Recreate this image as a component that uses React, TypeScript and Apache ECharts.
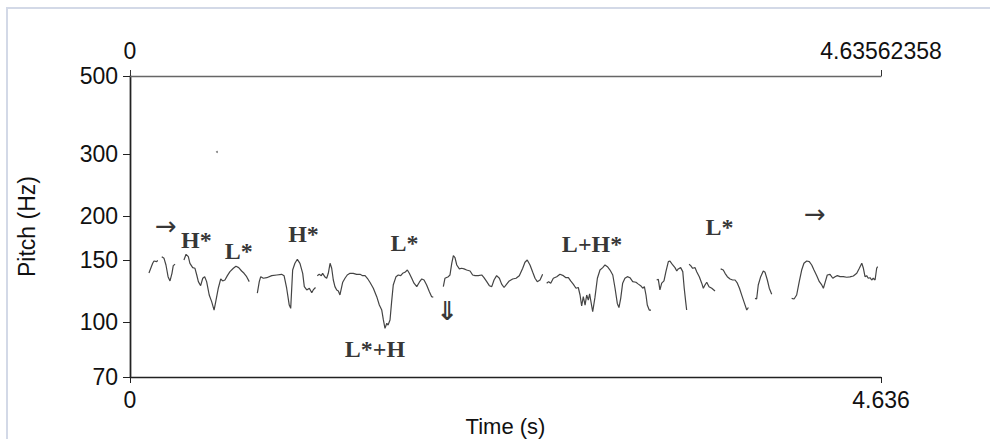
import React, { useEffect, useRef } from 'react';
import * as echarts from 'echarts';

// ---- axis data ----
const X_MAX = 4.63562358;
const xTickValues = [0, X_MAX];
const bottomTickLabels = ['0', '4.636'];
const topTickLabels = ['0', '4.63562358'];
const yTickValues = [70, 100, 150, 200, 300, 500];
const Y_MIN = 70;
const Y_MAX = 500;

// ---- pitch contour segments: [time (s), pitch (Hz)] ----
const segA = [[0.117, 138.1], [0.140, 147.1], [0.148, 149.3], [0.165, 148.7], [0.171, 150.0]];
const segB = [[0.196, 153.6], [0.210, 152.0], [0.222, 145.5], [0.235, 134.8], [0.247, 131.1], [0.259, 137.8], [0.267, 144.9], [0.278, 146.2]];
const segC = [[0.333, 150.3], [0.346, 156.0], [0.360, 153.6], [0.370, 147.1], [0.387, 143.0], [0.401, 142.4], [0.412, 136.3], [0.422, 130.5], [0.436, 127.1], [0.449, 133.4], [0.461, 134.8], [0.473, 130.5], [0.489, 119.6], [0.504, 114.5], [0.519, 108.4], [0.531, 115.7], [0.545, 125.0], [0.560, 132.8], [0.572, 131.1], [0.586, 131.9], [0.601, 135.7], [0.617, 139.3], [0.638, 142.4], [0.654, 144.3], [0.671, 143.0], [0.689, 139.9], [0.704, 137.8], [0.720, 134.8], [0.736, 130.5]];
const segD = [[0.786, 121.0], [0.798, 130.5], [0.807, 134.8], [0.823, 133.4], [0.844, 133.9], [0.875, 135.7], [0.906, 136.3], [0.936, 136.9], [0.951, 135.7], [0.967, 125.0], [0.983, 112.0], [0.992, 109.6], [1.004, 140.8], [1.018, 147.1], [1.033, 151.0], [1.049, 147.1], [1.066, 137.8], [1.076, 126.3], [1.091, 123.6], [1.107, 125.0], [1.122, 121.4], [1.131, 123.6], [1.145, 125.6]];
const segE = [[1.156, 135.7], [1.168, 136.9], [1.181, 135.7], [1.189, 137.8], [1.202, 134.8], [1.214, 133.4], [1.224, 137.8], [1.235, 147.1], [1.245, 142.4], [1.255, 131.9], [1.265, 126.3], [1.276, 123.6], [1.286, 122.8], [1.296, 119.6], [1.313, 130.0], [1.327, 133.4], [1.341, 136.3], [1.358, 137.8], [1.378, 137.8], [1.399, 136.9], [1.420, 136.9], [1.436, 135.7], [1.451, 135.7], [1.465, 133.4], [1.481, 130.0], [1.502, 125.0], [1.523, 118.3], [1.539, 112.0], [1.554, 108.4], [1.564, 101.6], [1.574, 96.2], [1.585, 99.4], [1.593, 98.3], [1.605, 101.6], [1.615, 114.5], [1.625, 127.7], [1.642, 134.8], [1.656, 136.3], [1.671, 135.7], [1.683, 137.8], [1.697, 138.7], [1.712, 140.8], [1.724, 137.8], [1.739, 133.4], [1.753, 129.2], [1.770, 126.3], [1.786, 130.0], [1.801, 132.8], [1.815, 131.9], [1.831, 127.7], [1.848, 122.2], [1.862, 118.3], [1.872, 117.8]];
const segF = [[1.934, 126.3], [1.944, 133.4], [1.965, 134.8], [1.975, 136.3], [1.986, 147.1], [1.996, 154.6], [2.006, 152.6], [2.017, 145.5], [2.033, 141.8], [2.047, 142.4], [2.062, 141.8], [2.078, 140.8], [2.099, 139.9], [2.115, 136.3], [2.130, 135.7], [2.150, 135.7], [2.171, 136.3], [2.185, 133.9], [2.202, 130.5], [2.218, 127.1], [2.233, 126.3], [2.247, 131.9], [2.263, 135.7], [2.280, 133.4], [2.294, 128.4], [2.309, 125.6], [2.325, 128.4], [2.341, 131.1], [2.362, 132.8], [2.383, 133.4], [2.403, 135.7], [2.424, 142.4], [2.438, 148.1], [2.452, 150.3], [2.469, 145.5], [2.486, 138.7], [2.500, 133.4], [2.514, 130.5], [2.531, 131.9], [2.547, 136.9]];
const segG = [[2.572, 129.2], [2.584, 130.5], [2.597, 129.2], [2.613, 133.4], [2.634, 134.8], [2.654, 136.9], [2.675, 135.7], [2.691, 133.9], [2.706, 133.9], [2.720, 131.1], [2.736, 128.4], [2.753, 125.0], [2.767, 125.6], [2.778, 119.6], [2.788, 111.3], [2.798, 118.3], [2.809, 112.0], [2.819, 119.6], [2.829, 115.7], [2.837, 120.4], [2.856, 107.2], [2.870, 117.7], [2.885, 133.4], [2.901, 140.8], [2.918, 143.0], [2.932, 145.5], [2.947, 143.9], [2.963, 140.8], [2.980, 136.3], [2.994, 125.0], [3.008, 113.2], [3.018, 110.2], [3.029, 117.0], [3.041, 129.2], [3.055, 133.4], [3.070, 134.8], [3.086, 133.9], [3.103, 130.5], [3.123, 130.0], [3.138, 128.4], [3.152, 127.1], [3.165, 125.0], [3.175, 126.3], [3.185, 119.6], [3.193, 112.0], [3.205, 108.4], [3.216, 108.4]];
const segH = [[3.251, 131.9], [3.261, 132.5], [3.271, 123.6], [3.282, 129.2], [3.296, 131.1], [3.308, 139.3], [3.323, 148.7], [3.333, 149.3], [3.350, 145.5], [3.364, 143.0], [3.375, 139.9], [3.384, 141.8], [3.399, 143.0], [3.412, 139.3], [3.421, 125.0], [3.430, 114.5], [3.436, 108.4]];
const segI = [[3.451, 146.2], [3.461, 144.9], [3.473, 142.4], [3.488, 143.0], [3.498, 139.3], [3.514, 134.8], [3.529, 129.2], [3.539, 125.0], [3.549, 127.7], [3.560, 130.0], [3.574, 126.3], [3.591, 125.0], [3.611, 122.8]];
const segJ = [[3.646, 141.8], [3.662, 140.8], [3.673, 137.8], [3.687, 134.8], [3.704, 132.8], [3.720, 131.9], [3.735, 131.9], [3.749, 129.2], [3.762, 125.0], [3.779, 118.3], [3.793, 113.2], [3.807, 108.4], [3.817, 110.2]];
const segK = [[3.858, 117.0], [3.868, 116.5], [3.878, 127.7], [3.893, 134.8], [3.909, 139.9], [3.920, 138.7], [3.934, 131.9], [3.946, 125.0], [3.961, 120.2]];
const segL = [[4.084, 117.0], [4.099, 116.5], [4.115, 119.6], [4.131, 130.5], [4.146, 140.8], [4.160, 147.1], [4.177, 149.3], [4.193, 148.7], [4.208, 145.5], [4.222, 140.8], [4.239, 135.7], [4.255, 130.5], [4.270, 127.7], [4.280, 125.0], [4.292, 130.5], [4.304, 136.3], [4.321, 136.9], [4.338, 133.4], [4.352, 134.8], [4.366, 135.7], [4.383, 134.8], [4.403, 134.8], [4.424, 134.3], [4.444, 134.6], [4.465, 135.4], [4.486, 137.8], [4.502, 142.4], [4.517, 147.1], [4.527, 142.4], [4.537, 134.8], [4.547, 135.7], [4.557, 133.4], [4.568, 133.9], [4.578, 131.9], [4.588, 133.4], [4.599, 131.9], [4.609, 142.4], [4.615, 143.9]];
const strayPoints = [[0.537, 304.4]];

const contourSegments = [segA, segB, segC, segD, segE, segF, segG, segH, segI, segJ, segK, segL];

// ---- ToBI annotations ----
const annotationTexts = ['→', 'H*', 'L*', 'H*', 'L*', 'L*+H', '⇓', 'L+H*', 'L*', '→'];
const annotationTimes = [0.222, 0.410, 0.671, 1.071, 1.694, 1.512, 1.957, 2.852, 3.639, 4.228];
const annotationHz = [187.8, 170.8, 158.9, 177.6, 168.5, 84.0, 107.7, 167.4, 186.5, 203.1];

const lg = (v: number) => Math.log10(v);

export default function App() {
  const ref = useRef<HTMLDivElement>(null);

  useEffect(() => {
    if (!ref.current) return;
    const chart = echarts.init(ref.current, null, { renderer: 'svg' });

    const tickFont = { fontFamily: 'Liberation Sans, Arial, sans-serif', fontSize: 23, color: '#111' };

    const lineSeries = contourSegments.map((seg, i) => ({
      name: 'pitch' + i,
      type: 'line',
      xAxisIndex: 0,
      yAxisIndex: 0,
      data: seg.map(([t, hz]) => [t, lg(hz)]),
      showSymbol: false,
      symbol: 'none',
      lineStyle: { color: '#444', width: 1.2 },
      silent: true,
    }));

    const annotationData = annotationTexts.map((txt, i) => {
      const isArrow = txt === '→';
      const isDown = txt === '⇓';
      return {
        name: txt,
        value: [annotationTimes[i], lg(annotationHz[i])],
        label: {
          fontFamily: isArrow || isDown ? 'DejaVu Sans, sans-serif' : 'Liberation Serif, Times New Roman, serif',
          fontWeight: isArrow ? 'normal' : 'bold',
          fontSize: isArrow ? 26 : isDown ? 26 : 24,
          color: '#000',
        },
      };
    });

    const option: any = {
      animation: false,
      backgroundColor: '#fff',
      grid: { left: 130, top: 76, right: 109, bottom: 62, containLabel: false, outerBoundsMode: 'none' },
      graphic: [
        {
          type: 'rect',
          shape: { x: 7, y: 8, width: 1200, height: 600 },
          style: { fill: 'none', stroke: '#d3d9e7', lineWidth: 2 },
          silent: true,
        },
      ],
      xAxis: [
        {
          type: 'value',
          position: 'bottom',
          min: 0,
          max: X_MAX,
          name: 'Time (s)',
          nameLocation: 'middle',
          nameGap: 32,
          nameTextStyle: { fontFamily: 'Liberation Sans, Arial, sans-serif', fontSize: 22, color: '#111' },
          axisLine: { show: true, lineStyle: { color: '#222', width: 1.3 } },
          axisTick: { show: true, length: 6, customValues: xTickValues, lineStyle: { color: '#222' } },
          axisLabel: {
            ...tickFont,
            margin: 11,
            customValues: xTickValues,
            formatter: (v: number) => bottomTickLabels[xTickValues.indexOf(v)] ?? '',
          },
          splitLine: { show: false },
        },
        {
          type: 'value',
          position: 'top',
          min: 0,
          max: X_MAX,
          axisLine: { show: true, lineStyle: { color: '#666', width: 1.3 } },
          axisTick: { show: true, length: 6, customValues: xTickValues, lineStyle: { color: '#333' } },
          axisLabel: {
            ...tickFont,
            margin: 14,
            customValues: xTickValues,
            formatter: (v: number) => topTickLabels[xTickValues.indexOf(v)] ?? '',
          },
          splitLine: { show: false },
        },
      ],
      yAxis: [
        {
          type: 'value',
          position: 'left',
          min: lg(Y_MIN),
          max: lg(Y_MAX),
          name: 'Pitch (Hz)',
          nameLocation: 'middle',
          nameGap: 92,
          nameRotate: 90,
          nameTextStyle: { fontFamily: 'Liberation Sans, Arial, sans-serif', fontSize: 23, color: '#111' },
          axisLine: { show: true, lineStyle: { color: '#111', width: 1.4 } },
          axisTick: { show: true, length: 7, customValues: yTickValues.map(lg), lineStyle: { color: '#222' } },
          axisLabel: {
            ...tickFont,
            margin: 12,
            customValues: yTickValues.map(lg),
            formatter: (v: number) => String(Math.round(Math.pow(10, v))),
          },
          splitLine: { show: false },
        },
        {
          type: 'value',
          position: 'right',
          min: lg(Y_MIN),
          max: lg(Y_MAX),
          axisLine: { show: true, lineStyle: { color: '#222', width: 1.4 } },
          axisTick: { show: false },
          axisLabel: { show: false },
          splitLine: { show: false },
        },
      ],
      series: [
        ...lineSeries,
        {
          name: 'stray',
          type: 'scatter',
          data: strayPoints.map(([t, hz]) => [t, lg(hz)]),
          symbolSize: 2,
          itemStyle: { color: '#666' },
          silent: true,
        },
        {
          name: 'annotations',
          type: 'scatter',
          data: annotationData,
          symbolSize: 1,
          itemStyle: { color: 'rgba(0,0,0,0)' },
          label: {
            show: true,
            position: 'inside',
            formatter: (p: any) => p.name,
            color: '#000',
            align: 'center',
            verticalAlign: 'middle',
          },
          silent: true,
        },
      ],
    };

    chart.setOption(option);
    return () => chart.dispose();
  }, []);

  return (
    <div
      ref={ref}
      style={{ position: 'absolute', left: 0, top: 0, width: 990, height: 439, background: '#fff' }}
    />
  );
}
